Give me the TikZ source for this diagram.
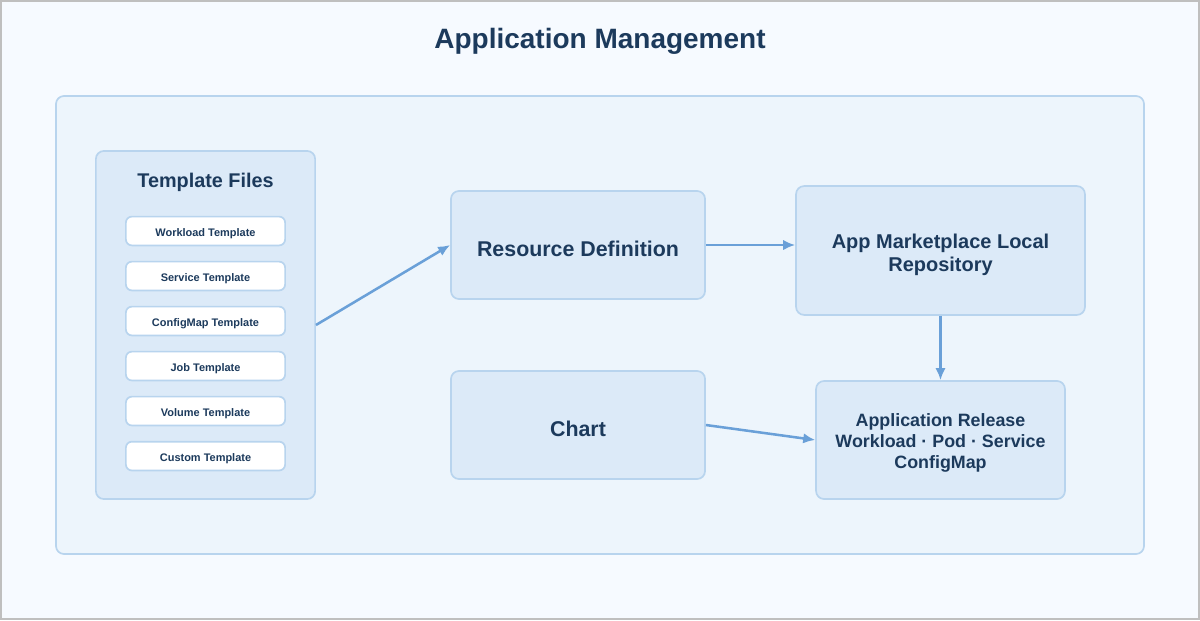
\documentclass[tikz,border=0pt]{standalone}
\usepackage{fontspec}
\setmainfont{Liberation Sans}
\usetikzlibrary{positioning,arrows.meta}
\usepackage{xcolor}
\definecolor{pagebg}{RGB}{246,250,255}
\definecolor{panelbg}{RGB}{237,245,252}
\definecolor{boxbg}{RGB}{220,234,248}
\definecolor{boxline}{RGB}{184,212,238}
\definecolor{navytext}{RGB}{28,58,92}
\definecolor{flowblue}{RGB}{106,160,216}

\begin{document}
\begin{tikzpicture}[x=0.025cm, y=-0.025cm, -{Latex[length=3mm,width=2.6mm]},
	box/.style={rectangle, rounded corners=0.2cm, draw=boxline, line width=1.2pt, fill=boxbg, text=navytext, font=\bfseries, align=center, inner sep=0pt},
	item/.style={rectangle, rounded corners=0.15cm, draw=boxline, line width=1.2pt, fill=white, text=navytext, font=\bfseries\fontsize{7.8}{9}\selectfont, minimum width=3.98cm, minimum height=0.72cm, inner sep=0pt, text height=0.88em, text depth=0.12em},
	flow/.style={draw=flowblue, line width=1.8pt}]
	\useasboundingbox (0,0) rectangle (1200,620);
	\fill[pagebg, draw=black!25, line width=1.5pt] (1,1) rectangle (1199,619);
	\node[text=navytext, font=\bfseries\fontsize{19.9}{24}\selectfont] (title) at (600,41) {Application Management};
	\draw[-, fill=panelbg, draw=boxline, line width=1.2pt, rounded corners=0.2cm] (56,96) rectangle (1144,554);
	% template files
	\node[box, minimum width=5.48cm, minimum height=8.7cm] (tpl) at (205.5,325) {};
	\node[text=navytext, font=\bfseries\fontsize{14.1}{17}\selectfont] (tpltitle) at (205.5,182) {Template Files};
	\node[item] (t1) at (205.5,231) {Workload Template};
	\node[item] (t2) [below of=t1, node distance=1.125cm] {Service Template};
	\node[item] (t3) [below of=t2, node distance=1.125cm] {ConfigMap Template};
	\node[item] (t4) [below of=t3, node distance=1.125cm] {Job Template};
	\node[item] (t5) [below of=t4, node distance=1.125cm] {Volume Template};
	\node[item] (t6) [below of=t5, node distance=1.125cm] {Custom Template};
	% main flow
	\node[box, minimum width=6.35cm, minimum height=2.7cm, font=\bfseries\fontsize{15.2}{18}\selectfont] (res) at (578,245) {\rule{0pt}{1.12em}Resource Definition};
	\node[box, minimum width=7.22cm, minimum height=3.22cm, font=\bfseries\fontsize{14.2}{16.3}\selectfont] (market) at (940.5,250.5) {\rule{0pt}{1.13em}App Marketplace Local\\Repository};
	\node[box, minimum width=6.35cm, minimum height=2.7cm, font=\bfseries\fontsize{15.2}{18}\selectfont] (chart) at (578,425) {\rule{0pt}{1.12em}Chart};
	\node[box, minimum width=6.22cm, minimum height=2.95cm, font=\bfseries\fontsize{12.7}{14.9}\selectfont] (release) at (940.5,440) {\rule{0pt}{1.07em}Application Release\\Workload · Pod · Service\\ConfigMap};
	\path[flow] (tpl.east |- 0,325) -- (res.west);
	\path[flow] (res.east) -- (market.west |- res.east);
	\path[flow] (market.south) -- (release.north);
	\path[flow] (chart.east) -- (release.west);
\end{tikzpicture}
\end{document}
